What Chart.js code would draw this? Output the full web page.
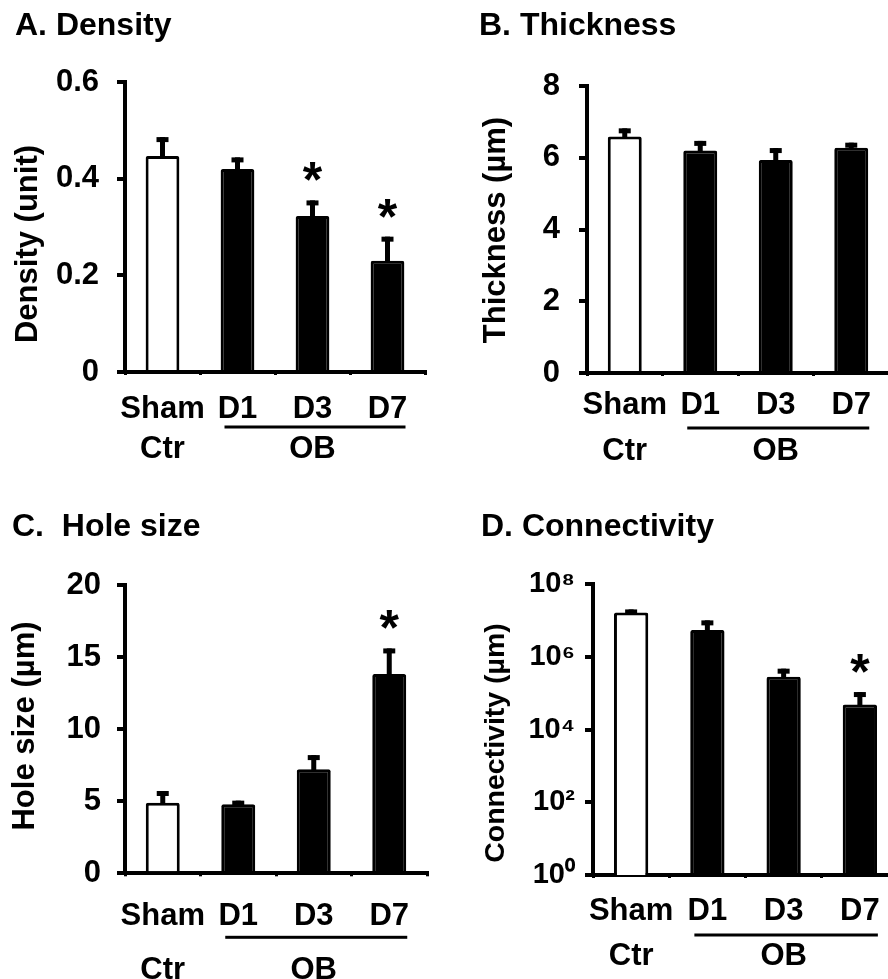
<!DOCTYPE html>
<html>
<head>
<meta charset="utf-8">
<script src="https://cdn.jsdelivr.net/npm/chart.js@4/dist/chart.umd.min.js"></script>
<style>
  html, body { margin: 0; padding: 0; background: #fff; }
  body { width: 888px; height: 979px; position: relative; overflow: hidden; }
  canvas { position: absolute; }
</style>
</head>
<body>
<canvas id="chartA" width="444" height="490" style="left:0;top:0"></canvas>
<canvas id="chartB" width="480" height="490" style="left:444px;top:0"></canvas>
<canvas id="chartC" width="444" height="489" style="left:0;top:490px"></canvas>
<canvas id="chartD" width="490" height="489" style="left:444px;top:490px"></canvas>
<script>
// categories shared by all four panels
var groups = ['Sham', 'D1', 'D3', 'D7'];
var groupNames = ['Ctr', '', 'OB', ''];
var significant = [false, false, true, true];
var significantD = [false, false, false, true];
var barFill = ['#ffffff', '#000000', '#000000', '#000000'];

// A. Density (unit)
var densityMean = [0.447, 0.42, 0.323, 0.23];
var densityErr  = [0.039, 0.024, 0.032, 0.05];
var densityTicks = [0, 0.2, 0.4, 0.6];

// B. Thickness (µm)
var thickMean = [6.59, 6.2, 5.94, 6.28];
var thickErr  = [0.23, 0.27, 0.33, 0.14];
var thickTicks = [0, 2, 4, 6, 8];

// C. Hole size (µm)
var holeMean = [4.9, 4.79, 7.21, 13.82];
var holeErr  = [0.81, 0.25, 0.99, 1.78];
var holeTicks = [0, 5, 10, 15, 20];

// D. Connectivity (µm), log scale
var connMean = [1.65e7, 5.4e6, 2.8e5, 4.9e4];
var connErr  = [3.5e6, 4.6e6, 1.9e5, 5.8e4];
var connTicks = [1, 1e2, 1e4, 1e6, 1e8];

var FONT = "'Liberation Sans', Arial, sans-serif";
var sup = { 0: '\u2070', 2: '\u00b2', 4: '\u2074', 6: '\u2076', 8: '\u2078' };

// error bars (upper only), asterisks, OB underline and the rotated y title
var extrasPlugin = {
  id: 'extras',
  afterDatasetsDraw: function (chart) {
    var o = chart.options.plugins.extras;
    var ctx = chart.ctx;
    var y = chart.scales.y;
    var meta = chart.getDatasetMeta(0);
    ctx.save();
    ctx.fillStyle = '#000';
    meta.data.forEach(function (bar, i) {
      var top = y.getPixelForValue(o.mean[i] + o.err[i]);
      ctx.fillRect(bar.x - 2.5, top, 5, bar.y - top + 2);
      ctx.fillRect(bar.x - 6, top, 12, 5);
      if (o.stars[i]) {
        ctx.font = 'bold 50px ' + FONT;
        ctx.textAlign = 'center';
        ctx.textBaseline = 'alphabetic';
        ctx.fillText('*', bar.x, top + o.starShift);
      }
    });
    // line under D1..D7
    var x0 = meta.data[1].x - 13, x1 = meta.data[3].x + 18;
    var ly = chart.chartArea.bottom + o.lineOffset;
    ctx.fillRect(x0, ly - 1.5, x1 - x0, 3);
    // y axis title
    ctx.translate(o.titleX, o.titleY);
    ctx.rotate(-Math.PI / 2);
    ctx.font = 'bold ' + o.titleSize + 'px ' + FONT;
    ctx.textAlign = 'center';
    ctx.textBaseline = 'middle';
    ctx.fillText(o.yTitle, 0, 0);
    ctx.restore();
  }
};

function makeChart(id, cfg) {
  var yScale = {
    type: cfg.log ? 'logarithmic' : 'linear',
    min: cfg.ticks[0],
    max: cfg.ticks[cfg.ticks.length - 1],
    afterBuildTicks: function (s) {
      s.ticks = cfg.ticks.map(function (v) { return { value: v }; });
    },
    afterFit: function (s) { s.width = cfg.yWidth; },
    border: { display: true, color: '#000', width: 4 },
    grid: { display: true, drawOnChartArea: false, drawTicks: true, tickLength: 8, lineWidth: 4, color: '#000' },
    ticks: {
      color: '#000',
      padding: cfg.yPad,
      font: { family: FONT, size: cfg.yTickSize, weight: 'bold' },
      callback: function (v) {
        return cfg.log ? '10' + sup[Math.round(Math.log10(v))] : String(v);
      }
    }
  };
  var xScale = {
    type: 'category',
    afterFit: function (s) { s.height = cfg.xHeight; },
    border: { display: true, color: '#000', width: 4 },
    grid: { display: true, drawOnChartArea: false, drawTicks: true, tickLength: 3, lineWidth: 3, color: '#000', offset: true },
    ticks: {
      color: '#000',
      autoSkip: false,
      maxRotation: 0,
      minRotation: 0,
      padding: cfg.xPad,
      font: { family: FONT, size: 31, weight: 'bold', lineHeight: cfg.lineGap + 'px' }
    }
  };
  return new Chart(document.getElementById(id), {
    type: 'bar',
    data: {
      labels: groups.map(function (g, i) { return [g, groupNames[i]]; }),
      datasets: [{
        data: cfg.mean,
        backgroundColor: barFill,
        borderColor: '#000',
        borderWidth: 3,
        borderRadius: 2,
        borderSkipped: 'bottom',
        barPercentage: 0.45,
        categoryPercentage: 1
      }]
    },
    options: {
      responsive: false,
      animation: false,
      layout: { padding: { left: cfg.padLeft, right: cfg.padRight, top: 0, bottom: 0 } },
      scales: { x: xScale, y: yScale },
      plugins: {
        legend: { display: false },
        tooltip: { enabled: false },
        title: {
          display: true,
          text: cfg.title,
          align: 'start',
          color: '#000',
          font: { family: FONT, size: 32, weight: 'bold', lineHeight: 1.2 },
          padding: { top: cfg.titleTop, bottom: cfg.titleBottom }
        },
        extras: {
          mean: cfg.mean, err: cfg.err, stars: cfg.stars, starShift: -3,
          lineOffset: cfg.lineOffset,
          yTitle: cfg.yTitle, titleX: cfg.titleX, titleY: cfg.titleY, titleSize: cfg.titleSize
        }
      }
    },
    plugins: [extrasPlugin]
  });
}

makeChart('chartA', {
  title: 'A. Density', yTitle: 'Density (unit)',
  mean: densityMean, err: densityErr, ticks: densityTicks, stars: significant,
  padLeft: 15, padRight: 19, yWidth: 110, xHeight: 118,
  titleTop: 6.5, titleBottom: 37.1, yPad: 18, yTickSize: 31,
  xPad: 14, lineGap: 40, lineOffset: 55,
  titleX: 28, titleY: 244, titleSize: 31
});

makeChart('chartB', {
  title: 'B. Thickness', yTitle: 'Thickness (\u00b5m)',
  mean: thickMean, err: thickErr, ticks: thickTicks, stars: [false, false, false, false],
  padLeft: 35, padRight: 35, yWidth: 108, xHeight: 117,
  titleTop: 6.5, titleBottom: 41.1, yPad: 19, yTickSize: 31,
  xPad: 6, lineGap: 46, lineOffset: 55,
  titleX: 52.5, titleY: 230, titleSize: 31
});

makeChart('chartC', {
  title: 'C.  Hole size', yTitle: 'Hole size (\u00b5m)',
  mean: holeMean, err: holeErr, ticks: holeTicks, stars: significantD,
  padLeft: 12, padRight: 17, yWidth: 113, xHeight: 105.7,
  titleTop: 17.8, titleBottom: 38.8, yPad: 16, yTickSize: 31,
  xPad: 13, lineGap: 54, lineOffset: 64,
  titleX: 25, titleY: 236, titleSize: 31
});

makeChart('chartD', {
  title: 'D. Connectivity', yTitle: 'Connectivity (\u00b5m)',
  mean: connMean, err: connErr, ticks: connTicks, stars: significantD, log: true,
  padLeft: 37, padRight: 36, yWidth: 112, xHeight: 104,
  titleTop: 17.5, titleBottom: 38.1, yPad: 10, yTickSize: 29,
  xPad: 11, lineGap: 45, lineOffset: 60,
  titleX: 52, titleY: 253, titleSize: 28.5
});
</script>
</body>
</html>
